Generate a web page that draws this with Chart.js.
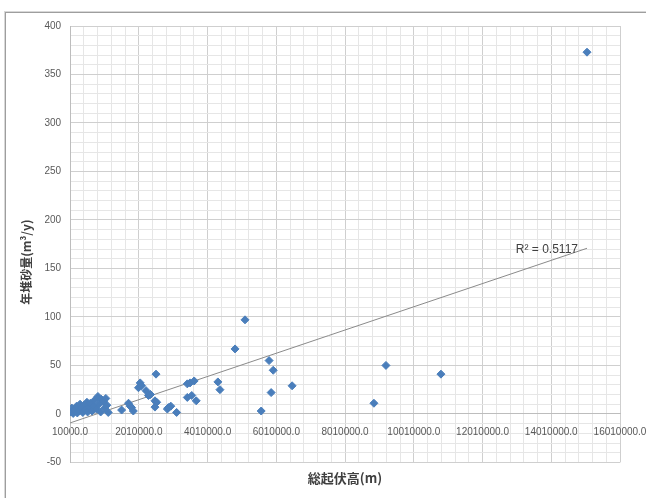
<!DOCTYPE html>
<html><head><meta charset="utf-8">
<script src="https://cdn.jsdelivr.net/npm/chart.js@4"></script>
<style>
html,body{margin:0;padding:0;background:#fff;overflow:hidden;width:646px;height:498px}
#frame{position:absolute;left:5px;top:12px;width:700px;height:600px;border-left:1px solid #9e9e9e;border-top:1px solid #9e9e9e;box-shadow:-1px -1px 0 #d8d8d8}
#wrap{position:absolute;left:0;top:0;width:646px;height:498px}
</style></head>
<body>
<div id="frame"></div>
<div id="wrap"><canvas id="c" width="646" height="498"></canvas></div>
<script>
// 総起伏高 (m) and 年堆砂量 (m³/y)
const reliefHeight = [
  30000,60000,100000,150000,200000,220000,280000,300000,350000,380000,
  420000,450000,500000,520000,580000,600000,650000,700000,720000,780000,
  820000,850000,900000,920000,980000,1020000,1080000,1120000,1050000,
  1510000,1710000,1760000,1800000,1850000,2000000,2050000,2090000,2220000,2290000,
  2350000,2480000,2510000,2530000,2480000,2840000,2870000,2940000,3110000,
  3420000,3500000,3620000,3420000,3550000,3680000,4310000,4370000,4810000,5100000,
  5570000,5860000,5800000,5920000,6470000,8850000,9200000,10800000,15050000
];
const sedimentRate = [
  2,6,0.5,4,8,1,3,10,6,1.5,
  9,4,12,2,7,11,3,8,14,5,
  18,10,2,15,13,6,9,1.5,16,
  4,11,8,6.5,3,27,32,29,24,19,
  20,13.5,41,12,7,5,6.5,8,1.5,
  31,32,34,17,19,13.5,33,25,67,97,
  3,22,55,45,29,11,50,41,373
];
// Linear trendline
const trendX = [10000, 15050000];
const trendY = [-9.3, 170.8];
const r2Label = 'R² = 0.5117';

const xMin = 10000, xMax = 16010000, xMajor = 2000000, xMinor = 400000;
const yMin = -50, yMax = 400, yMajor = 50, yMinor = 10;
const xTitle = '総起伏高(m)';
const yTitle = '年堆砂量(m³/y)';

const points = reliefHeight.map((x, i) => ({x, y: sedimentRate[i]}));
const trend = trendX.map((x, i) => ({x, y: trendY[i]}));

const xTicks = []; for (let v = xMin; v <= xMax + 1; v += xMinor) xTicks.push({value: v});
const yTicks = []; for (let v = yMin; v <= yMax; v += yMinor) yTicks.push({value: v});
const isMajorX = v => Math.abs(((v - xMin) / xMajor) - Math.round((v - xMin) / xMajor)) < 1e-6;
const isMajorY = v => v % yMajor === 0;

const r2Plugin = {
  id: 'r2',
  afterDatasetsDraw(chart) {
    const {ctx, scales} = chart;
    const px = scales.x.getPixelForValue(trendX[1]);
    const py = scales.y.getPixelForValue(trendY[1]);
    ctx.save();
    ctx.font = '12px "Liberation Sans", Arial, sans-serif';
    ctx.fillStyle = '#404040';
    ctx.textAlign = 'right';
    ctx.textBaseline = 'middle';
    ctx.fillText(r2Label, px - 9, py + 1);
    ctx.restore();
  }
};

new Chart(document.getElementById('c'), {
  type: 'scatter',
  data: {
    datasets: [
      {data: points, pointStyle: 'rectRot', radius: 4, hoverRadius: 4,
       backgroundColor: '#4A7EBB', borderColor: '#4A7EBB', borderWidth: 1, order: 1},
      {type: 'line', data: trend, borderColor: '#8a8a8a', borderWidth: 1, pointRadius: 0, fill: false, order: 2}
    ]
  },
  options: {
    responsive: false, animation: false, devicePixelRatio: 1,
    layout: {padding: {left: 0, top: 26, right: 26, bottom: 6}},
    plugins: {
      legend: {display: false}, tooltip: {enabled: false},
      title: {display: true, position: 'bottom', fullSize: false, text: xTitle, color: '#404040',
              font: {family: '"Noto Sans CJK JP", sans-serif', size: 13, weight: 'bold'},
              padding: {top: 8, bottom: 6}}
    },
    scales: {
      x: {
        type: 'linear', min: xMin, max: xMax, position: {y: 0},
        afterBuildTicks: s => { s.ticks = xTicks.map(t => ({...t})); },
        afterFit: s => { s.paddingRight = 0; s.paddingLeft = 0; },
        ticks: {autoSkip: false, maxRotation: 0, padding: 12, color: '#595959',
                font: {family: '"Liberation Sans", Arial, sans-serif', size: 10},
                callback: v => isMajorX(v) ? v.toFixed(1) : ''},
        grid: {drawTicks: false, color: c => isMajorX(c.tick.value) ? '#cfcfcf' : '#e6e6e6'},
        border: {color: '#bdbdbd'}
      },
      y: {
        min: yMin, max: yMax,
        afterBuildTicks: s => { s.ticks = yTicks.map(t => ({...t})); },
        ticks: {autoSkip: false, padding: 9, color: '#595959',
                font: {family: '"Liberation Sans", Arial, sans-serif', size: 10},
                callback: v => isMajorY(v) ? String(v) : ''},
        grid: {drawTicks: false, color: c => isMajorY(c.tick.value) ? '#cfcfcf' : '#e6e6e6'},
        border: {color: '#bdbdbd'},
        title: {display: true, text: yTitle + '\u3000\u3000\u3000', color: '#404040',
                font: {family: '"Noto Sans CJK JP", sans-serif', size: 12, weight: 'bold'},
                padding: {top: 19, bottom: 2}}
      }
    }
  },
  plugins: [r2Plugin]
});
</script>
</body></html>
